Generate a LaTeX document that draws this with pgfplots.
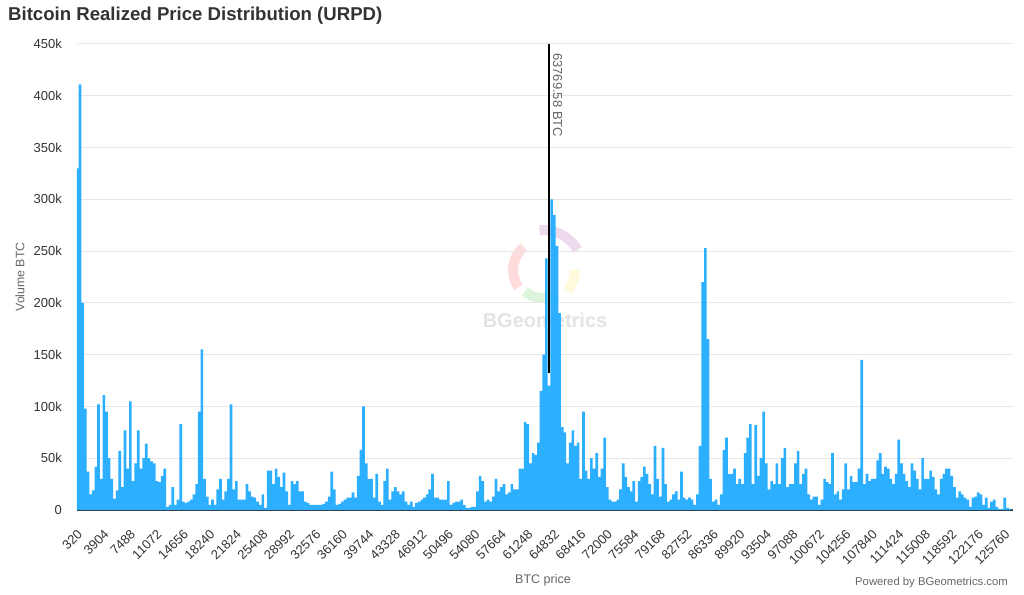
\documentclass[border=0pt]{standalone}
\usepackage{fontspec}
\setmainfont{Liberation Sans}
\usepackage{pgfplots}
\pgfplotsset{compat=1.18}
\definecolor{barblue}{HTML}{2CAFFE}
\definecolor{titlegray}{HTML}{333333}
\definecolor{labgray}{HTML}{666666}
\definecolor{gridgray}{HTML}{E6E6E6}
\definecolor{axisline}{HTML}{333F4A}
\begin{document}
\begin{tikzpicture}
\useasboundingbox (0,0) rectangle (1024bp,595bp);
% faint logo watermark
\begin{scope}[opacity=0.14, line width=10bp]
\draw[red] ([shift={(130:30bp)}]543bp,325bp) arc[start angle=130, end angle=215, radius=30bp];
\draw[violet] ([shift={(30:40bp)}]543bp,325bp) arc[start angle=30, end angle=95, radius=40bp];
\draw[yellow!80!orange] ([shift={(-40:32bp)}]543bp,325bp) arc[start angle=-40, end angle=0, radius=32bp];
\draw[green!70!black] ([shift={(230:28bp)}]543bp,325bp) arc[start angle=230, end angle=300, radius=28bp];
\end{scope}
\node[anchor=center, inner sep=0pt, text=black!11, font=\bfseries\fontsize{20bp}{24bp}\selectfont] at (545bp,275bp) {BGeometrics};
% title
\node[anchor=base west, inner sep=0pt, text=titlegray, font=\bfseries\fontsize{18.6bp}{22bp}\selectfont] at (8bp,574.5bp) {Bitcoin Realized Price Distribution (URPD)};
% axis titles
\node[rotate=90, anchor=center, inner sep=0pt, text=labgray, font=\fontsize{12.3bp}{14bp}\selectfont] at (20bp,318bp) {Volume BTC};
\node[anchor=center, inner sep=0pt, text=labgray, font=\fontsize{12.5bp}{14bp}\selectfont] at (543bp,15bp) {BTC price};
\node[anchor=east, inner sep=0pt, text=labgray, font=\fontsize{11.3bp}{13bp}\selectfont] at (1008bp,12bp) {Powered by BGeometrics.com};
\begin{axis}[
  at={(77bp,85bp)}, anchor=south west, scale only axis,
  width=936bp, height=466bp,
  xmin=-1.13, xmax=352.1, ymin=0, ymax=450,
  axis x line=bottom, axis y line=left,
  x axis line style={-, draw=axisline, line width=1.2bp},
  y axis line style={draw=none},
  major tick length=0pt,
  ybar, bar width=1,
  xtick={0,10,...,350},
  xticklabels={320,3904,7488,11072,14656,18240,21824,25408,28992,32576,36160,39744,43328,46912,50496,54080,57664,61248,64832,68416,72000,75584,79168,82752,86336,89920,93504,97088,100672,104256,107840,111424,115008,118592,122176,125760},
  ytick={0,50,...,450},
  yticklabels={0,50k,100k,150k,200k,250k,300k,350k,400k,450k},
  ymajorgrids, grid style={draw=gridgray, line width=1bp},
  tick label style={font=\fontsize{13bp}{15bp}\selectfont, text=titlegray},
  xticklabel style={rotate=45, anchor=east, inner sep=0pt},
  xticklabel shift=22bp,
  yticklabel style={anchor=east, inner sep=0pt},
  yticklabel shift=15bp,
  /pgf/number format/assume math mode=true,
]
\addplot[fill=barblue, draw=none] coordinates {
(-1,330)(0,411)(1,200)(2,98)(3,37)(4,15)(5,19)(6,42)(7,102)(8,30)(9,111)
(10,95)(11,50)(12,30)(13,11)(14,19)(15,57)(16,22)(17,77)(18,40)(19,105)
(20,28)(21,45)(22,77)(23,40)(24,50)(25,64)(26,50)(27,47)(28,45)(29,28)
(30,27)(31,33)(32,40)(33,3)(34,5)(35,22)(36,5)(37,10)(38,83)(39,8)
(40,7)(41,8)(42,10)(43,15)(44,25)(45,95)(46,155)(47,30)(48,13)(49,5)
(50,10)(51,5)(52,20)(53,30)(54,10)(55,18)(56,30)(57,102)(58,20)(59,28)
(60,10)(61,10)(62,10)(63,25)(64,18)(65,13)(66,12)(67,8)(68,5)(69,15)
(70,2)(71,38)(72,38)(73,25)(74,40)(75,32)(76,22)(77,36)(78,18)(79,5)
(80,28)(81,25)(82,28)(83,18)(84,18)(85,8)(86,7)(87,5)(88,5)(89,5)
(90,5)(91,5)(92,6)(93,8)(94,13)(95,37)(96,20)(97,5)(98,6)(99,8)
(100,10)(101,12)(102,12)(103,17)(104,12)(105,33)(106,58)(107,100)(108,45)(109,30)
(110,30)(111,12)(112,35)(113,8)(114,5)(115,28)(116,40)(117,10)(118,18)(119,22)
(120,18)(121,15)(122,18)(123,8)(124,5)(125,8)(126,3)(127,7)(128,8)(129,10)
(130,12)(131,15)(132,20)(133,35)(134,12)(135,12)(136,10)(137,10)(138,10)(139,28)
(140,5)(141,7)(142,8)(143,8)(144,10)(145,5)(146,2)(147,2)(148,3)(149,3)
(150,18)(151,33)(152,28)(153,8)(154,10)(155,8)(156,13)(157,30)(158,18)(159,22)
(160,25)(161,15)(162,17)(163,25)(164,20)(165,20)(166,40)(167,40)(168,85)(169,83)
(170,45)(171,55)(172,53)(173,65)(174,115)(175,150)(176,243)(177,120)(178,300)(179,285)
(180,255)(181,190)(182,80)(183,75)(184,45)(185,65)(186,77)(187,62)(188,65)(189,30)
(190,95)(191,38)(192,30)(193,50)(194,40)(195,55)(196,32)(197,40)(198,70)(199,22)
(200,10)(201,8)(202,8)(203,10)(204,20)(205,45)(206,32)(207,22)(208,18)(209,28)
(210,8)(211,28)(212,32)(213,42)(214,35)(215,25)(216,15)(217,62)(218,30)(219,13)
(220,60)(221,25)(222,8)(223,10)(224,15)(225,18)(226,10)(227,37)(228,12)(229,10)
(230,12)(231,10)(232,5)(233,15)(234,62)(235,220)(236,253)(237,165)(238,30)(239,8)
(240,10)(241,5)(242,15)(243,58)(244,70)(245,35)(246,35)(247,40)(248,25)(249,30)
(250,25)(251,55)(252,70)(253,83)(254,25)(255,82)(256,33)(257,50)(258,95)(259,45)
(260,20)(261,28)(262,25)(263,45)(264,25)(265,50)(266,60)(267,22)(268,25)(269,25)
(270,45)(271,57)(272,25)(273,35)(274,40)(275,15)(276,10)(277,13)(278,13)(279,5)
(280,10)(281,30)(282,27)(283,25)(284,55)(285,15)(286,18)(287,10)(288,20)(289,45)
(290,20)(291,33)(292,27)(293,27)(294,40)(295,145)(296,25)(297,35)(298,28)(299,30)
(300,30)(301,48)(302,55)(303,35)(304,42)(305,40)(306,30)(307,25)(308,35)(309,68)
(310,45)(311,35)(312,28)(313,22)(314,45)(315,38)(316,30)(317,20)(318,50)(319,30)
(320,30)(321,38)(322,32)(323,20)(324,15)(325,30)(326,35)(327,40)(328,40)(329,33)
(330,22)(331,12)(332,18)(333,15)(334,12)(335,10)(336,3)(337,12)(338,13)(339,17)
(340,15)(341,5)(342,12)(343,2)(344,8)(345,10)(346,3)(347,1)(348,1)(349,12)
(350,2)(351,1)
};
\draw[black, line width=2bp] (axis cs:177.04,132) -- (axis cs:177.04,450);
\node[rotate=-90, anchor=west, inner sep=0pt, text=labgray, font=\fontsize{13bp}{15bp}\selectfont] at ([xshift=8.5bp, yshift=-9bp]axis cs:177.04,450) {63769.58 BTC};
\end{axis}
\end{tikzpicture}
\end{document}
